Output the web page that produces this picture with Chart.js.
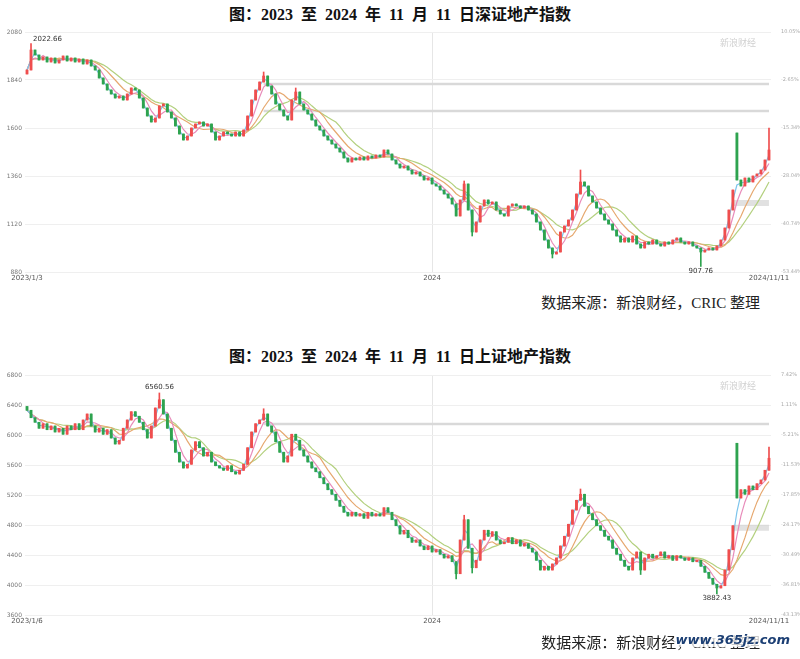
<!DOCTYPE html>
<html>
<head>
<meta charset="utf-8">
<script src="https://cdn.jsdelivr.net/npm/chart.js@4.4.1/dist/chart.umd.min.js"></script>
<style>
  html, body { margin: 0; padding: 0; background: #fff; }
  body { width: 800px; height: 659px; position: relative; overflow: hidden; font-family: "Liberation Serif", "Noto Sans CJK SC", serif; }
  .title { position: absolute; left: 0; width: 800px; text-align: center; font-weight: bold; font-size: 16px; word-spacing: 4px; color: #111; white-space: nowrap; }
  .source { position: absolute; right: 40px; font-size: 15px; color: #222; white-space: nowrap; }
  .box { position: absolute; left: 0; width: 800px; height: 268px; }
  .logo { position: absolute; color: #d0d0d0; font-size: 9px; font-family: "Noto Sans CJK SC"; }
  .mark { position: absolute; right: 8px; top: 632px; padding: 0 2px; background: rgba(255,255,255,0.75); font: italic bold 13px "DejaVu Sans"; color: #1c3f74; }
</style>
</head>
<body>
<div class="title" style="top:1px">图：2023 至 2024 年 11 月 11 日深证地产指数</div>
<div class="box" style="top:22px"><canvas id="szChart" width="800" height="268"></canvas></div>
<div class="logo" style="left:720px;top:36px">新浪财经</div>
<div class="source" style="top:291px">数据来源：新浪财经，CRIC 整理</div>

<div class="title" style="top:343px">图：2023 至 2024 年 11 月 11 日上证地产指数</div>
<div class="box" style="top:365px"><canvas id="shChart" width="800" height="268"></canvas></div>
<div class="logo" style="left:720px;top:379px">新浪财经</div>
<div class="source" style="top:631px">数据来源：新浪财经，CRIC 整理</div>
<div class="mark">www.365jz.com</div>

<script>
// 深证地产指数, one candle per ~2.4 trading days
const szCloses = [
  1890, 1990, 1965, 1940, 1955, 1930, 1950, 1925, 1940, 1960,
  1935, 1950, 1930, 1945, 1920, 1940, 1910, 1890, 1850, 1820,
  1790, 1770, 1750, 1760, 1740, 1770, 1800, 1790, 1750, 1700,
  1660, 1630, 1650, 1710, 1720, 1680, 1650, 1610, 1570, 1540,
  1560, 1600, 1620, 1630, 1610, 1620, 1580, 1540, 1560, 1580,
  1570, 1560, 1580, 1560, 1590, 1660, 1740, 1790, 1830, 1860,
  1810, 1770, 1720, 1690, 1660, 1640, 1740, 1780, 1720, 1690,
  1670, 1640, 1610, 1590, 1560, 1540, 1520, 1500, 1480, 1450,
  1430, 1450, 1440, 1455, 1440, 1460, 1450, 1465, 1455, 1490,
  1470, 1440, 1420, 1400, 1410, 1390, 1370, 1380, 1360, 1340,
  1350, 1320, 1310, 1290, 1270, 1250, 1220, 1160, 1240, 1320,
  1190, 1080, 1130, 1210, 1240, 1220, 1230, 1190, 1170, 1160,
  1210, 1220, 1210, 1200, 1210, 1190, 1170, 1130, 1090, 1040,
  1000, 970, 980, 1080, 1110, 1140, 1190, 1270, 1330, 1310,
  1260, 1230, 1200, 1170, 1140, 1120, 1090, 1060, 1030, 1050,
  1030, 1060, 1020, 1000, 1030, 1020, 1040, 1020, 1010, 1030,
  1020, 1040, 1050, 1030, 1020, 1030, 1010, 1000, 980, 990,
  1000, 990, 1010, 1040, 1100, 1190, 1290, 1340, 1310, 1350,
  1330, 1360, 1370, 1390, 1440, 1490
];
const szFirstOpen = 1870;
const szGapOpens = { 177: 1575 };
const szWickHighs = { 1: 2022.66, 59: 1880, 67: 1800, 109: 1335, 138: 1390, 185: 1600 };
const szWickLows = { 111: 1060, 131: 950, 168: 907.76 };
const szYTicks = [880, 1120, 1360, 1600, 1840, 2080];
const szXTickText = ["2023/1/3", "2024", "2024/11/11"];
const szXTickAt = [0, 101, 185];
const szRefLines = [{ from: 59, value: 1820 }, { from: 59, value: 1685 }];
const szBands = [{ from: 176, value: 1225 }];
const szExtremes = [{ index: 1, value: 2022.66, where: "right" }, { index: 168, value: 907.76, where: "below" }];

// 上证地产指数
const shCloses = [
  6330, 6230, 6170, 6090, 6150, 6070, 6120, 6040, 6090, 6010,
  6120, 6070, 6150, 6070, 6200, 6280, 6120, 6040, 6090, 6010,
  6070, 5960, 5880, 5930, 6090, 6200, 6310, 6250, 6170, 6070,
  5960, 6120, 6360, 6470, 6280, 6090, 5930, 5770, 5640, 5560,
  5610, 5800, 5910, 5830, 5720, 5770, 5640, 5590, 5560, 5530,
  5590, 5510, 5480, 5530, 5610, 5830, 6040, 6150, 6200, 6280,
  6120, 6040, 5910, 5770, 5640, 5720, 6010, 5930, 5800, 5720,
  5640, 5560, 5510, 5430, 5350, 5270, 5210, 5130, 5050, 4970,
  4920, 4970, 4920, 4950, 4890, 4970, 4920, 4950, 4920, 5030,
  4970, 4870, 4790, 4680, 4730, 4630, 4570, 4600, 4520, 4470,
  4520, 4440, 4470, 4410, 4360, 4390, 4310, 4150, 4600, 4870,
  4490, 4230, 4330, 4600, 4730, 4650, 4710, 4600, 4550, 4570,
  4630, 4550, 4600, 4520, 4550, 4490, 4440, 4330, 4200, 4250,
  4200, 4280, 4360, 4520, 4650, 4810, 5000, 5130, 5210, 5050,
  4950, 4870, 4790, 4730, 4650, 4600, 4490, 4410, 4330, 4250,
  4200, 4360, 4440, 4200, 4360, 4410, 4360, 4390, 4440, 4360,
  4390, 4330, 4390, 4360, 4330, 4360, 4310, 4330, 4250, 4170,
  4090, 4010, 3960, 3990, 4200, 4470, 4790, 5160, 5270, 5210,
  5320, 5270, 5350, 5400, 5530, 5690
];
const shFirstOpen = 6380;
const shGapOpens = { 177: 5890 };
const shWickHighs = { 33: 6560.56, 59: 6350, 109: 4930, 138: 5280, 185: 5840 };
const shWickLows = { 107: 4080, 111: 4160, 153: 4140, 172: 3882.43 };
const shYTicks = [3600, 4000, 4400, 4800, 5200, 5600, 6000, 6400, 6800];
const shXTickText = ["2023/1/6", "2024", "2024/11/11"];
const shXTickAt = [0, 101, 185];
const shRefLines = [{ from: 59, value: 6147 }];
const shBands = [{ from: 176, value: 4765 }];
const shExtremes = [{ index: 33, value: 6560.56, where: "above" }, { index: 172, value: 3882.43, where: "below" }];

const maPeriods = [2, 4, 8, 12];
const maColors = ["#7cc4ec", "#e88cba", "#e6a86f", "#b3d07e"];
const upColor = "#ef4e4e";
const downColor = "#2ea34f";

function buildCandles(closes, firstOpen, gapOpens, wickHighs, wickLows) {
  return closes.map((c, i) => {
    const o = gapOpens[i] ?? (i === 0 ? firstOpen : closes[i - 1]);
    const h = Math.max(o, c, wickHighs[i] ?? -Infinity);
    const l = Math.min(o, c, wickLows[i] ?? Infinity);
    return { o, c, h, l };
  });
}

function movingAverage(closes, period) {
  return closes.map((_, i) => {
    const win = closes.slice(Math.max(0, i - period + 1), i + 1);
    return win.reduce((a, b) => a + b, 0) / win.length;
  });
}

const extremeLabels = {
  id: "extremeLabels",
  afterDatasetsDraw(chart, args, opts) {
    const { ctx, scales: { x, y } } = chart;
    ctx.save();
    ctx.font = '7px "DejaVu Sans"';
    ctx.fillStyle = "#333";
    (opts.items || []).forEach((item) => {
      const px = x.getPixelForValue(item.index);
      const py = y.getPixelForValue(item.value);
      const text = item.value.toFixed(2);
      if (item.where === "right") {
        ctx.textAlign = "left"; ctx.textBaseline = "bottom";
        ctx.fillText(text, px + 2, py - 1);
      } else if (item.where === "above") {
        ctx.textAlign = "center"; ctx.textBaseline = "bottom";
        ctx.fillText(text, px, py - 2);
      } else {
        ctx.textAlign = "center"; ctx.textBaseline = "top";
        ctx.fillText(text, px, py + 1);
      }
    });
    ctx.restore();
  },
};

function drawKline(canvasId, cfg) {
  const candles = buildCandles(cfg.closes, cfg.firstOpen, cfg.gapOpens, cfg.wickHighs, cfg.wickLows);
  const colors = candles.map((k) => (k.c >= k.o ? upColor : downColor));
  const labels = cfg.closes.map((_, i) => String(i));
  const base = cfg.closes[0];
  const yMin = cfg.yTicks[0];
  const yMax = cfg.yTicks[cfg.yTicks.length - 1];

  const datasets = [
    {
      type: "bar", data: candles.map((k) => [k.l, k.h]), backgroundColor: colors,
      barThickness: 1, grouped: false, order: 1,
    },
    {
      type: "bar", data: candles.map((k) => [k.o, k.c]), backgroundColor: colors,
      barThickness: 2.2, grouped: false, order: 0,
    },
  ];

  maPeriods.forEach((p, n) => {
    datasets.push({
      type: "line", data: movingAverage(cfg.closes, p), borderColor: maColors[n],
      borderWidth: 1.2, pointRadius: 0, tension: 0, order: 2,
    });
  });

  cfg.refLines.forEach((line) => {
    datasets.push({
      type: "line", data: labels.map((_, i) => (i >= line.from ? line.value : null)),
      borderColor: "#d9d9d9", borderWidth: 2.5, pointRadius: 0, order: 5,
    });
  });

  cfg.bands.forEach((band) => {
    datasets.push({
      type: "line", data: labels.map((_, i) => (i >= band.from ? band.value : null)),
      borderColor: "rgba(200,200,200,0.55)", borderWidth: 6, pointRadius: 0, order: 6,
    });
  });

  const boundary = cfg.xTickAt[1];

  return new Chart(document.getElementById(canvasId), {
    type: "bar",
    data: { labels, datasets },
    options: {
      responsive: false,
      animation: false,
      layout: { padding: { top: 10, bottom: 4, left: 0, right: 0 } },
      plugins: { legend: { display: false }, tooltip: { enabled: false }, extremeLabels: { items: cfg.extremes } },
      scales: {
        x: {
          type: "category", offset: true,
          grid: {
            offset: false, drawTicks: false,
            color: (ctx) => (ctx.index === boundary ? "#e6e6e6" : "rgba(0,0,0,0)"),
          },
          border: { display: false },
          ticks: {
            autoSkip: false, maxRotation: 0, padding: 2, color: "#555",
            font: { size: 7, family: "DejaVu Sans" },
            callback: (v, i) => {
              const k = cfg.xTickAt.indexOf(i);
              return k >= 0 ? cfg.xTickText[k] : "";
            },
          },
          afterFit: (axis) => { axis.height = 14; },
        },
        y: {
          position: "left", min: yMin, max: yMax,
          afterBuildTicks: (axis) => { axis.ticks = cfg.yTicks.map((v) => ({ value: v })); },
          grid: { color: "#efefef", drawTicks: false },
          border: { display: false },
          ticks: {
            padding: 3, color: "#777", font: { size: 6, family: "DejaVu Sans" },
            callback: (v) => String(v),
          },
          afterFit: (axis) => { axis.width = 25; },
        },
        yR: {
          position: "right", min: yMin, max: yMax,
          afterBuildTicks: (axis) => { axis.ticks = cfg.yTicks.map((v) => ({ value: v })); },
          grid: { display: false },
          border: { display: false },
          ticks: {
            padding: 2, color: "#aaa", font: { size: 5, family: "DejaVu Sans" },
            callback: (v) => `${((v / base - 1) * 100).toFixed(2)}%`,
          },
          afterFit: (axis) => { axis.width = 29; },
        },
      },
    },
    plugins: [extremeLabels],
  });
}

drawKline("szChart", {
  closes: szCloses, firstOpen: szFirstOpen, gapOpens: szGapOpens,
  wickHighs: szWickHighs, wickLows: szWickLows, yTicks: szYTicks,
  xTickText: szXTickText, xTickAt: szXTickAt, refLines: szRefLines,
  bands: szBands, extremes: szExtremes,
});

drawKline("shChart", {
  closes: shCloses, firstOpen: shFirstOpen, gapOpens: shGapOpens,
  wickHighs: shWickHighs, wickLows: shWickLows, yTicks: shYTicks,
  xTickText: shXTickText, xTickAt: shXTickAt, refLines: shRefLines,
  bands: shBands, extremes: shExtremes,
});
</script>
</body>
</html>
